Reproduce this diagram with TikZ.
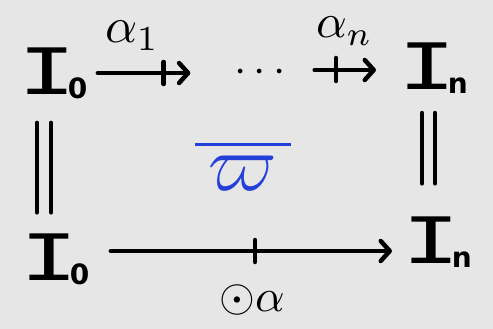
\documentclass[tikz,border=0pt]{standalone}
\usepackage{fontspec}
\usetikzlibrary{arrows.meta}
\newfontfamily\monoI{DejaVu Sans Mono}
\newfontfamily\subf{DejaVu Sans}
\definecolor{bg}{HTML}{E6E6E6}
\definecolor{inkblue}{HTML}{2340D8}
\newcommand{\Isub}[1]{\scalebox{1.5}[1]{\fontsize{64}{64}\selectfont\monoI I}\kern-8pt\raisebox{-4pt}{\fontsize{28}{28}\selectfont\subf\bfseries #1}}
\begin{document}
\begin{tikzpicture}[x=1pt,y=-1pt,
  lbl/.style={inner sep=0pt, outer sep=0pt},
  arr/.style={line width=4.5pt, line cap=round, -{Straight Barb[length=9pt,width=20pt,line cap=round,line join=round]}},
  stroke/.style={line width=4.5pt, line cap=round}]
\fill[bg] (0,0) rectangle (493,329);
\useasboundingbox (0,0) rectangle (493,329);
% objects
\node[lbl, anchor=base west] (I0t) at (18,95) {\Isub{0}};
\node[lbl, anchor=base west] (Int) at (398,90) {\Isub{n}};
\node[lbl, anchor=base west] (I0b) at (20,280) {\Isub{0}};
\node[lbl, anchor=base west] (Inb) at (402,263) {\Isub{n}};
\node[lbl] (dots) at (260,73) {\scalebox{4.4}{$\cdots$}};
% labels
\node[lbl, anchor=base west] (a1) at (105,43) {\scalebox{5}{$\alpha_1$}};
\node[lbl, anchor=base west] (an) at (316,38) {\scalebox{4.8}{$\alpha_n$}};
\node[lbl, text=inkblue] (w) at (243,165) {\scalebox{8}{$\overline{\,\varpi\,}$}};
\node[lbl] (oa) at (252,300) {\scalebox{4.6}{$\odot\alpha$}};
% arrows
\draw[arr, shorten <=10.5pt, shorten >=44pt] (I0t.east |- 0,73) -- node[pos=0.52, coordinate] (t1) {} (dots.west |- 0,73);
\draw[arr, shorten <=29pt, shorten >=22pt] (dots.east |- 0,70) -- node[pos=0.45, coordinate] (t2) {} (Int.west |- 0,70);
\draw[arr, shorten <=21.5pt, shorten >=10pt] (I0b.east |- 0,251) -- node[pos=0.53, coordinate] (t3) {} (Inb.west |- 0,251);
\draw[stroke] ([yshift=11pt]t1) -- ([yshift=-11pt]t1);
\draw[stroke] ([yshift=12pt]t2) -- ([yshift=-11pt]t2);
\draw[stroke] ([yshift=11pt]t3) -- ([yshift=-11pt]t3);
% equalities
\draw[stroke, shorten <=23.5pt, shorten >=21pt] (I0t.south -| 37,0) -- (I0b.north -| 37,0);
\draw[stroke, shorten <=23.5pt, shorten >=21pt] (I0t.south -| 51,0) -- (I0b.north -| 51,0);
\draw[stroke, shorten <=19pt, shorten >=33pt] (Int.south -| 422,0) -- (Inb.north -| 422,0);
\draw[stroke, shorten <=19pt, shorten >=33pt] (Int.south -| 435,0) -- (Inb.north -| 435,0);
\end{tikzpicture}
\end{document}
